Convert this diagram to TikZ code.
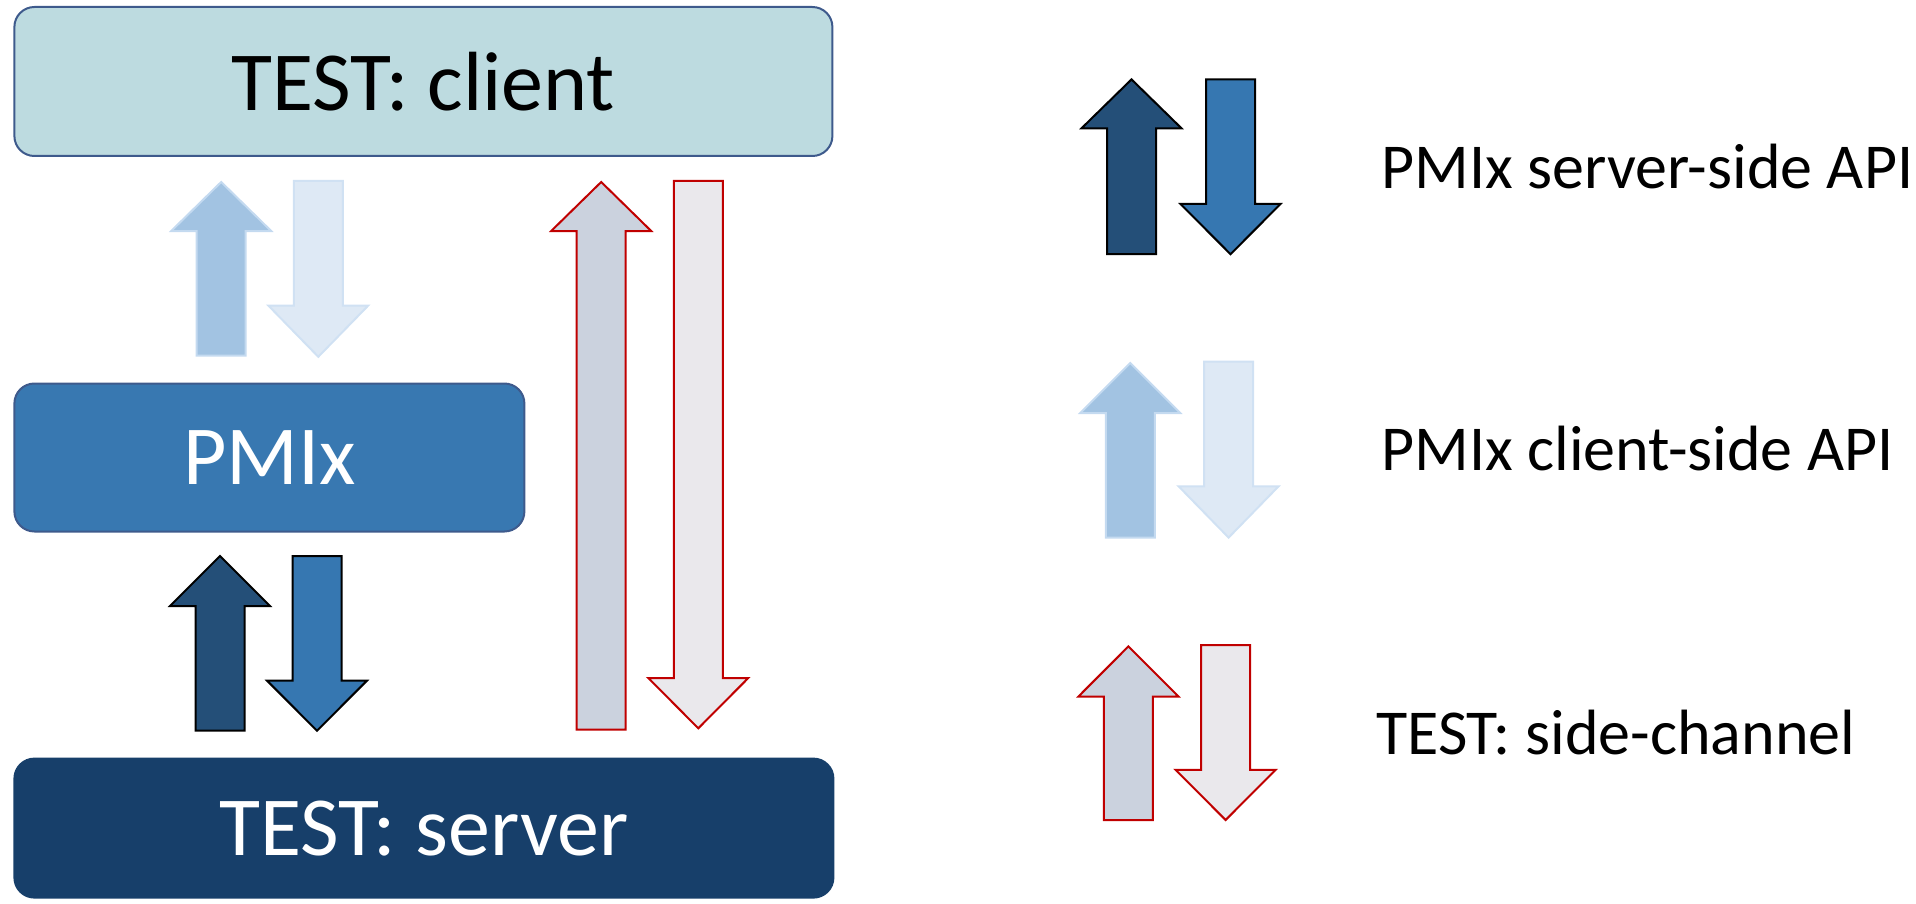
\documentclass[tikz,border=0pt]{standalone}
\usepackage{fontspec}
\setmainfont{Carlito}
\definecolor{clientfill}{HTML}{BDDBE0}
\definecolor{boxline}{HTML}{3E5A8C}
\definecolor{pmixfill}{HTML}{3878B1}
\definecolor{serverfill}{HTML}{173F6A}
\definecolor{lightup}{HTML}{A2C3E2}
\definecolor{lightupline}{HTML}{C4DAF0}
\definecolor{lightdown}{HTML}{DEE9F5}
\definecolor{lightdownline}{HTML}{D0E1F3}
\definecolor{darkup}{HTML}{244F78}
\definecolor{darkdown}{HTML}{3677B1}
\definecolor{sideup}{HTML}{CBD2DE}
\definecolor{sidedown}{HTML}{EAE8EC}
\definecolor{sideline}{HTML}{C00000}

% block arrows: centre x, tip/top y, head base y, end y, style
\newcommand\upblock[5]{%
  \path[#5] (#1,#2) -- ({#1+50},#3) -- ({#1+24.5},#3) -- ({#1+24.5},#4)
    -- ({#1-24.5},#4) -- ({#1-24.5},#3) -- ({#1-50},#3) -- cycle;}
\newcommand\downblock[5]{%
  \path[#5] ({#1-24.5},#2) -- ({#1+24.5},#2) -- ({#1+24.5},#3) -- ({#1+50},#3)
    -- (#1,#4) -- ({#1-50},#3) -- ({#1-24.5},#3) -- cycle;}

\tikzset{
  layerbox/.style={rectangle, rounded corners=20pt, line width=2pt, draw=boxline,
    anchor=north west, inner sep=0pt, font=\fontsize{84}{100}\selectfont},
  legendtext/.style={anchor=base west, inner sep=0pt, font=\fontsize{64}{76}\selectfont},
  arr/.style={line width=2pt, line join=miter},
  clientapi up/.style={arr, fill=lightup, draw=lightupline},
  clientapi down/.style={arr, fill=lightdown, draw=lightdownline},
  serverapi up/.style={arr, fill=darkup, draw=black},
  serverapi down/.style={arr, fill=darkdown, draw=black},
  sidechan up/.style={arr, fill=sideup, draw=sideline},
  sidechan down/.style={arr, fill=sidedown, draw=sideline},
}

\begin{document}
\begin{tikzpicture}[x=1pt, y=-1pt]
\useasboundingbox (0,0) rectangle (1916,904);

% layers
\node[layerbox, fill=clientfill, minimum width=818pt, minimum height=149pt]
  (client) at (13.4,6) {TEST: client};
\node[layerbox, fill=pmixfill, text=white, minimum width=510pt, minimum height=148pt]
  (pmix) at (13.4,382.5) {PMIx};
\node[layerbox, fill=serverfill, draw=serverfill, text=white, minimum width=819pt, minimum height=139pt]
  (server) at (13.4,757.6) {TEST: server};

% client <-> PMIx
\upblock{221.2}{182}{231}{355.6}{clientapi up}
\downblock{318.3}{180.8}{305.5}{356.8}{clientapi down}
% PMIx <-> server
\upblock{220}{556}{606}{730.7}{serverapi up}
\downblock{317}{556}{680.6}{730.7}{serverapi down}
% side channel
\upblock{601.2}{182}{231}{729.5}{sidechan up}
\downblock{698.3}{180.8}{678}{728.3}{sidechan down}

% legend
\upblock{1131.5}{79.4}{128.3}{254.2}{serverapi up}
\downblock{1230.5}{79.4}{204}{254.2}{serverapi down}
\node[legendtext] (lserver) at (1381,189) {PMIx server-side API};

\upblock{1130.3}{363}{413}{537.6}{clientapi up}
\downblock{1228.6}{361.7}{486.3}{537.6}{clientapi down}
\node[legendtext] (lclient) at (1381,470) {PMIx client-side API};

\upblock{1128.4}{646.4}{696.5}{820}{sidechan up}
\downblock{1225.6}{645.2}{769.8}{820}{sidechan down}
\node[legendtext] (lside) at (1376,754) {TEST: side-channel};
\end{tikzpicture}
\end{document}
